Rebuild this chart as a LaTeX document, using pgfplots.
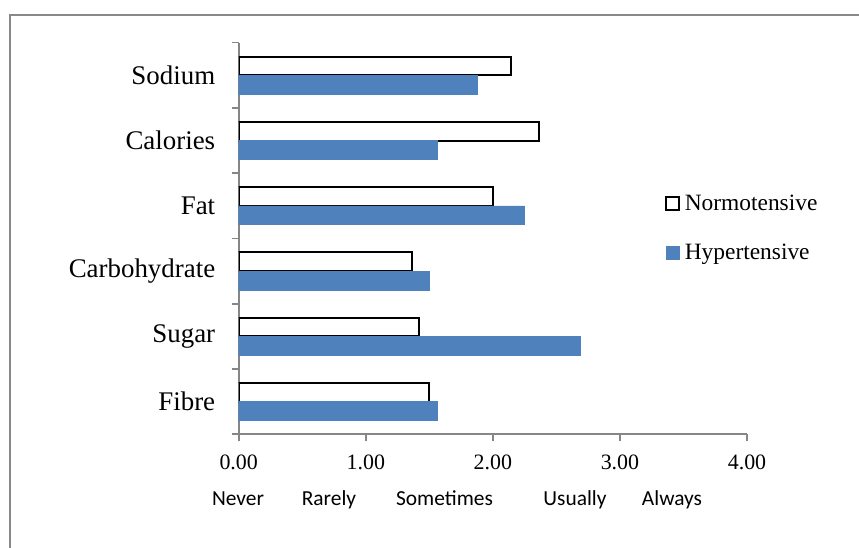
\documentclass[border=0pt]{standalone}
\usepackage{pgfplots}
\pgfplotsset{compat=1.18}
\usepackage{fontspec}
\setmainfont{Liberation Serif}
\newfontfamily\calibri{Carlito}
\definecolor{hyper}{HTML}{4F81BD}
\definecolor{axgray}{HTML}{868686}
\definecolor{bordergray}{HTML}{888888}
\begin{document}
\begin{tikzpicture}[x=1bp,y=1bp]
\useasboundingbox (0,0) rectangle (859,548);
\draw[bordergray, line width=2bp] (9.5,0) -- (9.5,533) -- (859,533);
\begin{axis}[
  at={(238.7bp,113.7bp)}, anchor=south west,
  scale only axis, width=508.3bp, height=391.6bp,
  xmin=0, xmax=4, ymin=-0.5, ymax=5.5,
  axis x line*=bottom, axis y line*=left,
  axis line style={axgray, line width=1.6bp, -},
  tick style={axgray, line width=1.6bp},
  tick align=outside,
  major tick length=7bp,
  xtick={0,1,2,3,4},
  xticklabels={0.00,1.00,2.00,3.00,4.00},
  xticklabel style={font=\fontsize{22}{26}\selectfont, yshift=-10bp},
  ytick={-0.5,0.5,1.5,2.5,3.5,4.5,5.5},
  yticklabels={Fibre,Sugar,Carbohydrate,Fat,Calories,Sodium,{}},
  yticklabel style={font=\fontsize{27}{32}\selectfont, yshift=32.6bp, xshift=-13bp},
  xbar, bar width=18.7bp,
  legend style={at={(rel axis cs:0.832,0.621)}, anchor=north west, draw=none, fill=none,
    font=\fontsize{23.5}{28}\selectfont, row sep=28bp, column sep=0bp},
  legend cell align=left,
  legend image code/.code={\draw[#1] (0bp,-6.5bp) rectangle (13bp,6.5bp);},
]
\addplot[draw=black, fill=white, line width=2bp, bar shift=9.35bp] coordinates {
  (1.50,0) (1.42,1) (1.36,2) (2.00,3) (2.36,4) (2.14,5)};
\addlegendentry{\hspace{3bp}Normotensive}
\addplot[draw=hyper, fill=hyper, line width=0.5bp, bar shift=-9.35bp] coordinates {
  (1.56,0) (2.69,1) (1.50,2) (2.25,3) (1.56,4) (1.88,5)};
\addlegendentry{\hspace{3bp}Hypertensive}
\end{axis}
\begin{scope}[every node/.style={font=\calibri\fontsize{21.5}{25}\selectfont, anchor=base, inner sep=0pt}]
\node at (238,42) {Never};
\node at (329,42) {Rarely};
\node at (444.5,42) {Sometimes};
\node at (575,42) {Usually};
\node at (672,42) {Always};
\end{scope}
\end{tikzpicture}
\end{document}
